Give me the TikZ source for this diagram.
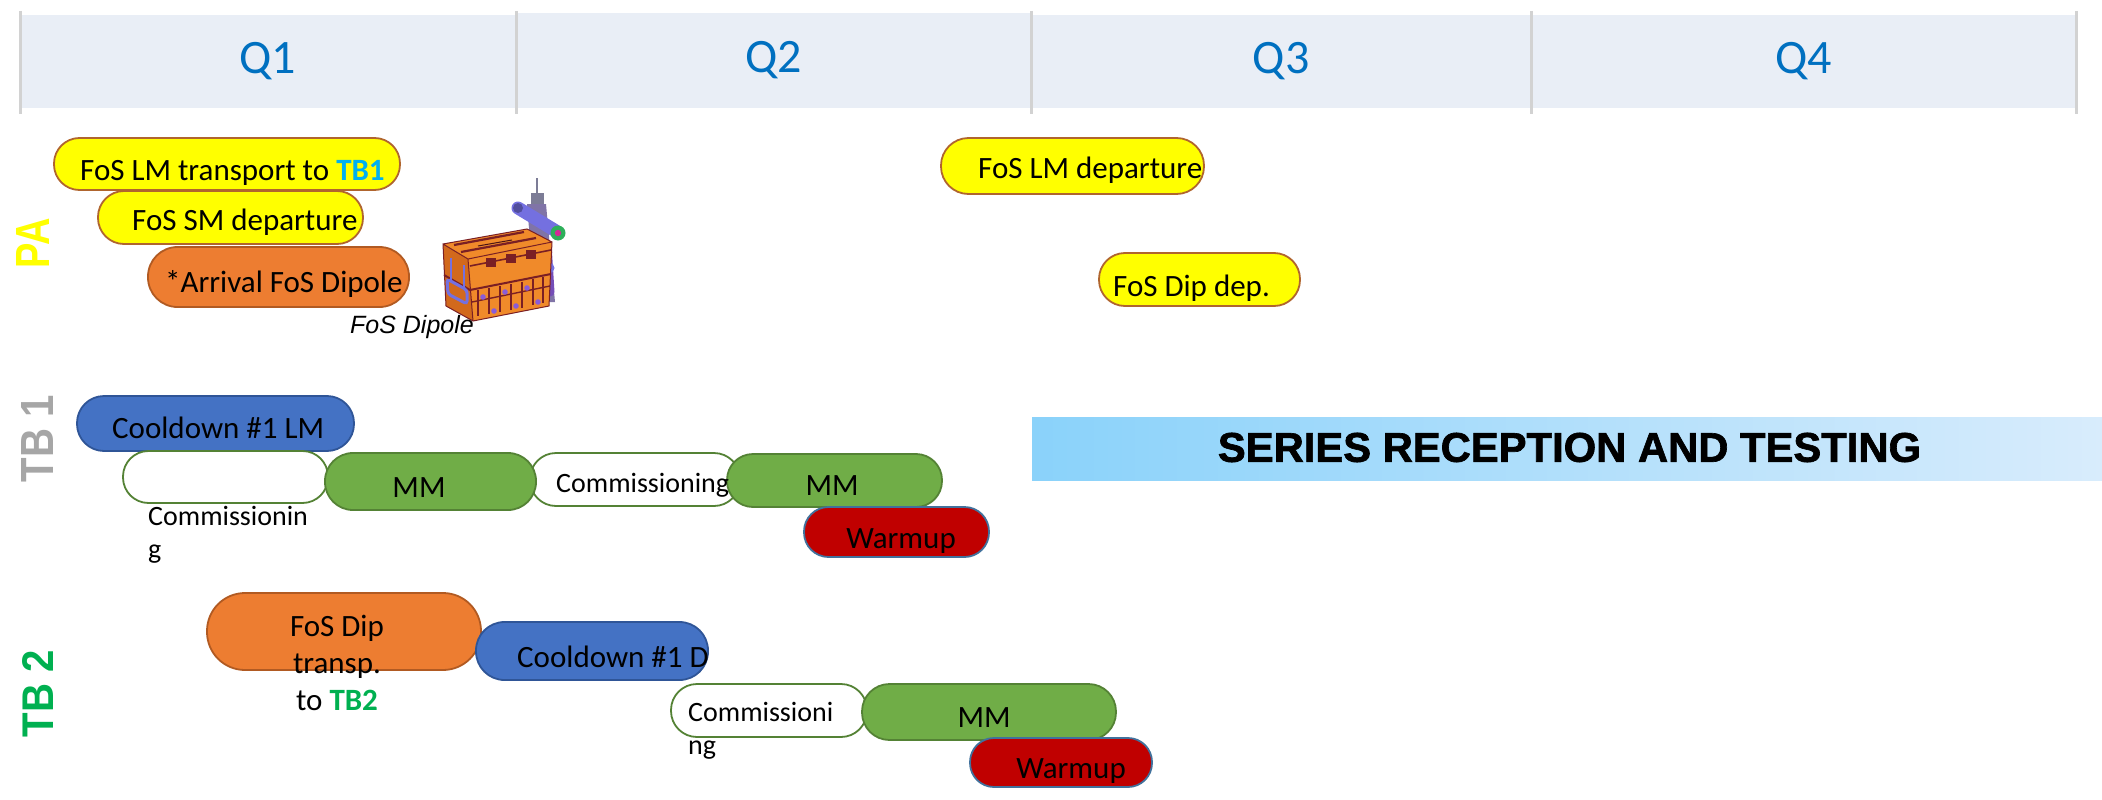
\documentclass[tikz,border=0pt]{standalone}
\usepackage{graphicx}
\usepackage{fontspec}
\setmainfont{Carlito}
\newfontfamily\arialfont{Liberation Sans}
\newfontfamily\bannerfont{Liberation Sans}[BoldFeatures={FakeBold=1.6}]

\definecolor{hdrfill}{HTML}{E9EEF6}
\definecolor{hdrline}{HTML}{D2D2D2}
\definecolor{qblue}{HTML}{0070C0}
\definecolor{pyellow}{HTML}{FFFF00}
\definecolor{pyellowedge}{HTML}{B0652E}
\definecolor{porange}{HTML}{ED7D31}
\definecolor{porangeedge}{HTML}{B15A22}
\definecolor{pblue}{HTML}{4472C4}
\definecolor{pblueedge}{HTML}{2F5597}
\definecolor{pgreen}{HTML}{70AD47}
\definecolor{pgreenedge}{HTML}{548235}
\definecolor{pred}{HTML}{C00000}
\definecolor{prededge}{HTML}{41719C}
\definecolor{tbcyan}{HTML}{00B0F0}
\definecolor{tbgreen}{HTML}{00B050}
\definecolor{tbgray}{HTML}{A6A6A6}
\definecolor{bannerL}{HTML}{8AD2FA}
\definecolor{bannerR}{HTML}{D8ECFC}
% dipole sketch colours
\definecolor{dorange}{HTML}{F08A2A}
\definecolor{dorangedk}{HTML}{D2691C}
\definecolor{dred}{HTML}{7A1F24}
\definecolor{dpurple}{HTML}{8A5CD8}
\definecolor{dtube}{HTML}{7470E0}
\definecolor{dsteel}{HTML}{7C7C96}
\definecolor{dgreen}{HTML}{2EAF5A}

\begin{document}
\begin{tikzpicture}[x=1pt,y=-1pt,
  pill/.style={draw, line width=1.8pt, rectangle, inner sep=0pt},
  ypill/.style={pill, fill=pyellow, draw=pyellowedge},
  opill/.style={pill, fill=porange, draw=porangeedge},
  bpill/.style={pill, fill=pblue, draw=pblueedge},
  gpill/.style={pill, fill=pgreen, draw=pgreenedge},
  wpill/.style={pill, fill=white, draw=pgreenedge},
  rpill/.style={pill, fill=pred, draw=prededge},
  lbl/.style={inner sep=0pt, font=\fontsize{31}{37}\selectfont},
  slbl/.style={inner sep=0pt, font=\fontsize{28}{33}\selectfont},
  cell/.style={fill=hdrfill, inner sep=0pt, text=qblue, font=\fontsize{48}{56}\selectfont},
  sepline/.style={draw=hdrline, line width=3pt},
  rowlbl/.style={inner sep=0pt, rotate=90, font=\arialfont\bfseries}
]
\useasboundingbox (0,0) rectangle (2102,800);

% ---- quarter header ----
\node[cell, minimum width=496pt, minimum height=93pt] (q1) at (268,61.5) {Q1};
\node[cell, minimum width=515pt, minimum height=95pt] (q2) at (773.5,60.5) {Q2};
\node[cell, minimum width=500pt, minimum height=93pt] (q3) at (1281,61.5) {Q3};
\node[cell, minimum width=545pt, minimum height=93pt] (q4) at (1803.5,61.5) {Q4};
\foreach \sx in {20,516,1031,1531,2076}
  \draw[sepline] (\sx,11) -- (\sx,114);

% ---- row labels ----
\node[rowlbl, text=pyellow] (rowPA) at (33,243) {\resizebox{50pt}{33pt}{PA}};
\node[rowlbl, text=tbgray] (rowTB1) at (37,439) {\resizebox{87pt}{32pt}{TB 1}};
\node[rowlbl, text=tbgreen] (rowTB2) at (38,694) {\resizebox{87pt}{31pt}{TB 2}};

% ---- PA row ----
\node[ypill, minimum width=346pt, minimum height=52pt, rounded corners=25.5pt] (lmtrans) at (227,164) {};
\node[ypill, minimum width=265pt, minimum height=53pt, rounded corners=26pt] (smdep) at (230.5,217.5) {};
\node[opill, minimum width=261pt, minimum height=60pt, rounded corners=29.5pt] (arrdip) at (278.5,277) {};
\node[ypill, minimum width=263pt, minimum height=56pt, rounded corners=27.5pt] (lmdep) at (1072.5,166) {};
\node[ypill, minimum width=201pt, minimum height=53pt, rounded corners=26pt] (dipdep) at (1199.5,279.5) {};

\node[lbl, anchor=base west] (lmtranstxt) at (80,180) {FoS LM transport to {\bfseries\color{tbcyan}TB1}};
\node[lbl, anchor=base west] (smdeptxt) at (132,230) {FoS SM departure};
\node[lbl, anchor=base west] (arrdiptxt) at (165,292) {*Arrival FoS Dipole};
\node[lbl, anchor=base west] (lmdeptxt) at (978,178) {FoS LM departure};
\node[lbl, anchor=base west] (dipdeptxt) at (1113,296) {FoS Dip dep.};

% ---- FoS dipole sketch ----
% instrumentation column behind the magnet
\draw[dsteel, line width=2.5pt] (537,178) -- (537,196);
\fill[dsteel] (531,193) rectangle (544,206);
\fill[dsteel!75!dpurple] (527,204) -- (546,204) -- (555,302) -- (535,302) -- cycle;
\draw[dtube, line width=13pt, line cap=round] (518,208) -- (556,231);
\fill[dtube!70!black] (518,208) circle (5);
\fill[dgreen] (558,233) circle (7.5);
\fill[magenta!70!dpurple] (558,233) circle (3.2);
\draw[dpurple!85!black, line width=9pt, line cap=round] (547,244) -- (550,292);
\fill[dtube] (549,268) circle (5.5);
% magnet body: top, side and front faces
\fill[dorange] (443,244) -- (527,229) -- (552,242) -- (468,259) -- cycle;
\fill[dorangedk] (443,244) -- (468,259) -- (473,321) -- (446,306) -- cycle;
\fill[dorange] (468,259) -- (552,242) -- (549,306) -- (473,321) -- cycle;
% upper layer details
\draw[dred, line width=2.2pt] (454,245) -- (524,232) (461,252) -- (536,238);
\draw[dred!60!black, line width=1pt] (478,246) -- (512,240);
\draw[dred, line width=1.6pt] (470,266) -- (551,250);
\foreach \fx in {486,506,526}
  \fill[dred] (\fx,262-0.2*\fx+93) rectangle ++(10,9);
% seam between the two coil layers
\draw[dred, line width=2pt] (444,275) -- (470,290) -- (551,274);
% lower layer pattern
\foreach \fx in {478,489,500,511,522,533,543}
  \draw[dred, line width=2.4pt] (\fx,292-0.2*\fx+94) -- (\fx,318-0.2*\fx+94);
\draw[dred, line width=1.4pt] (472,302) -- (550,286);
\foreach \fx/\fy in {483/297,505/292,527/288,494/311,516/306,538/302}
  \fill[dpurple] (\fx,\fy) circle (2.8);
% outline
\draw[dred, line width=1pt] (443,244) -- (527,229) -- (552,242) -- (549,306) -- (473,321) -- (446,306) -- cycle
  (443,244) -- (468,259) -- (552,242) (468,259) -- (473,321);
% lifting handle on the side face
\draw[dtube, line width=3pt, rounded corners=3pt] (447,279) -- (467,290) -- (467,304) -- (448,294) -- cycle;
\draw[dtube, line width=1.6pt] (451,258) -- (451,280) (464,265) -- (464,288);

\node[inner sep=0pt, font=\arialfont\itshape\fontsize{25}{30}\selectfont] (diplbl) at (412,327) {FoS Dipole};

% ---- TB1 row ----
\node[bpill, minimum width=277pt, minimum height=55pt, rounded corners=27pt] (cool1) at (215.5,423.5) {};
\node[wpill, minimum width=205pt, minimum height=52pt, rounded corners=25.5pt] (comm1) at (225.5,477) {};
\node[wpill, minimum width=210pt, minimum height=53pt, rounded corners=26pt] (comm2) at (635,479.5) {};
\node[gpill, minimum width=211pt, minimum height=57pt, rounded corners=28pt] (mm1) at (430.5,481.5) {};
\node[gpill, minimum width=215pt, minimum height=53pt, rounded corners=26pt] (mm2) at (834.5,480.5) {};
\node[rpill, minimum width=185pt, minimum height=50pt, rounded corners=24.5pt] (warm1) at (896.5,532) {};

\node[lbl, anchor=base west] (cool1txt) at (112,438) {Cooldown \#1 LM};
\node[slbl, anchor=base west] (comm1txta) at (148,525) {Commissionin};
\node[slbl, anchor=base west] (comm1txtb) at (148,558) {g};
\node[lbl, anchor=base] (mm1txt) at (419,497) {MM};
\node[slbl, anchor=base west] (comm2txt) at (556,492) {Commissioning};
\node[lbl, anchor=base] (mm2txt) at (832,495) {MM};
\node[lbl, anchor=base] (warm1txt) at (901,548) {Warmup};

% ---- series banner ----
\node[inner sep=0pt, minimum width=1070pt, minimum height=63pt, left color=bannerL, right color=bannerR] (series) at (1567,448.5) {};
\node[inner sep=0pt, font=\bannerfont\bfseries] (seriestxt) at (1569.5,447.5) {\resizebox{703pt}{29pt}{SERIES RECEPTION AND TESTING}};

% ---- TB2 row ----
\node[opill, minimum width=274pt, minimum height=77pt, rounded corners=38pt] (diptr) at (344,631.5) {};
\node[bpill, minimum width=232pt, minimum height=58pt, rounded corners=28.5pt] (cool2) at (592,651) {};
\node[wpill, minimum width=196pt, minimum height=53pt, rounded corners=26pt] (comm3) at (769,710.5) {};
\node[gpill, minimum width=254pt, minimum height=56pt, rounded corners=27.5pt] (mm3) at (989,712) {};
\node[rpill, minimum width=182pt, minimum height=49pt, rounded corners=24pt] (warm2) at (1061,762.5) {};

\node[lbl, anchor=base] (diptrtxta) at (337,636) {FoS Dip};
\node[lbl, anchor=base] (diptrtxtb) at (337,673) {transp.};
\node[lbl, anchor=base] (diptrtxtc) at (337,710) {to {\bfseries\color{tbgreen}TB2}};
\node[lbl, anchor=base west] (cool2txt) at (517,667) {Cooldown \#1 D};
\node[slbl, anchor=base west] (comm3txta) at (688,721) {Commissioni};
\node[slbl, anchor=base west] (comm3txtb) at (688,754) {ng};
\node[lbl, anchor=base] (mm3txt) at (984,727) {MM};
\node[lbl, anchor=base] (warm2txt) at (1071,778) {Warmup};
\end{tikzpicture}
\end{document}
